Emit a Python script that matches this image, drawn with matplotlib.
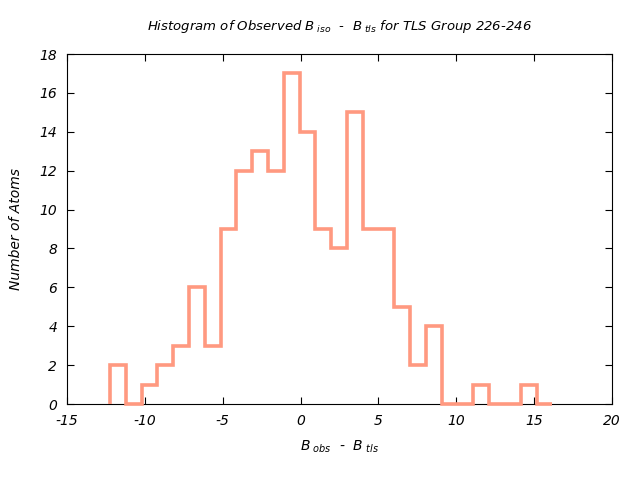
import numpy as np
import matplotlib
matplotlib.use("Agg")
import matplotlib.pyplot as plt

plt.rcParams['font.family'] = ['DejaVu Sans']
plt.rcParams['font.style'] = 'italic'
plt.rcParams['mathtext.default'] = 'it'
plt.rcParams['axes.unicode_minus'] = False

# counts per bin
counts = [2, 0, 1, 2, 3, 6, 3, 9, 12, 13, 12, 17, 14, 9, 8, 15, 9, 9, 5, 2, 4, 0, 0, 1, 0, 0, 1, 0]
bin_lo, bin_hi = -12.24, 16.17
edges = np.linspace(bin_lo, bin_hi, len(counts) + 1)

xticks = [-15, -10, -5, 0, 5, 10, 15, 20]
yticks = [0, 2, 4, 6, 8, 10, 12, 14, 16, 18]

fig = plt.figure(figsize=(6.4, 4.8), dpi=100)
ax = fig.add_axes([67/640, 1 - 404/480, 545/640, 350/480])

ax.stairs(counts, edges, color='#ff9980', lw=2.6, clip_on=False, zorder=3)

ax.set_xlim(-15, 20)
ax.set_ylim(0, 18)
ax.set_xticks(xticks)
ax.set_yticks(yticks)
ax.tick_params(direction='in', top=True, right=True, length=5, labelsize=10, pad=7)
for lab in ax.get_xticklabels() + ax.get_yticklabels():
    lab.set_style('italic')

ax.set_title(r'Histogram of Observed $B_{\ iso}$  -  $B_{\ tls}$ for TLS Group 226-246',
             fontsize=9.5, pad=17)
ax.set_xlabel(r'$B_{\ obs}$  -  $B_{\ tls}$', fontsize=10, labelpad=8)
ax.set_ylabel('Number of Atoms', fontsize=10, labelpad=12)

fig.savefig('out.png', dpi=100)
